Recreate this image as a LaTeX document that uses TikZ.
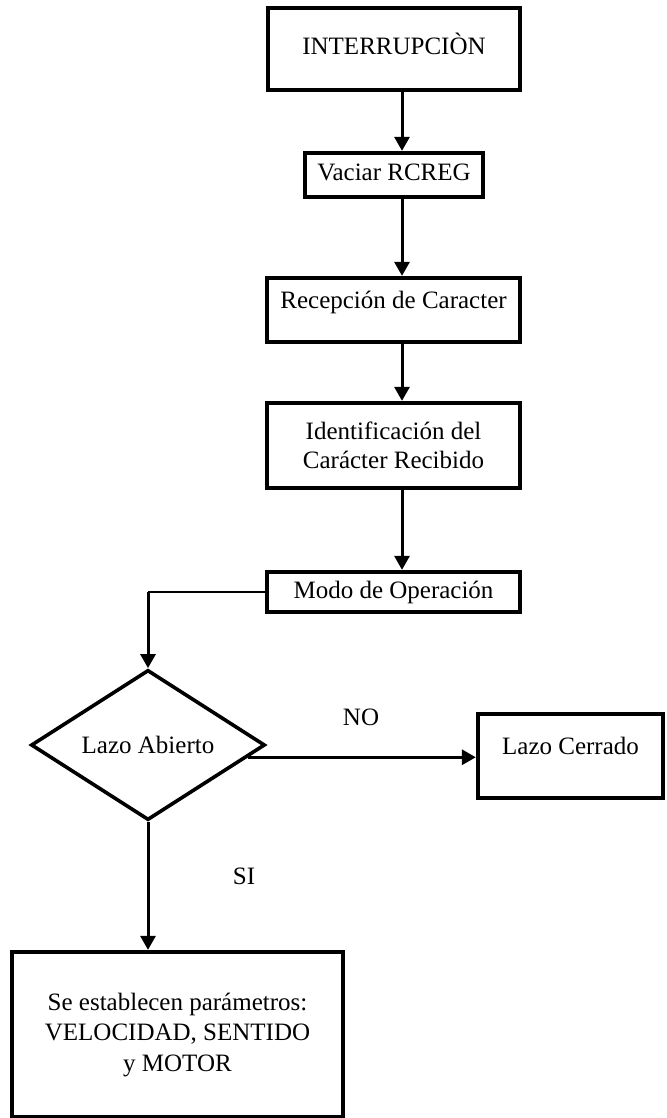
\documentclass[tikz,border=0pt]{standalone}
\usepackage{fontspec}
\setmainfont{Liberation Serif}
\usetikzlibrary{arrows.meta,shapes.geometric}
\newcommand\fs{\fontsize{25}{29}\selectfont}
\newcommand\fsb{\fontsize{25}{30.5}\selectfont}
\tikzset{
  box/.style={draw, line width=4.3pt, inner sep=0pt, align=center, font=\fs},
  one/.style={text height=18pt, text depth=6pt},
  up/.style={text height=18pt, text depth=22pt},
  dia/.style={diamond, draw, line width=3.6pt, inner sep=0pt, minimum width=234pt, minimum height=144pt, font=\fs},
  arr/.style={line width=3pt, -{Triangle[length=14pt,width=15pt]}},
  thinline/.style={line width=1.3pt},
  lab/.style={inner sep=0pt, font=\fs}
}
\begin{document}
\begin{tikzpicture}[x=1pt,y=-1pt]
\useasboundingbox (0,0) rectangle (666,1118);
\node[box, one, minimum width=252pt, minimum height=82pt] (b1) at (394,49) {INTERRUPCIÒN};
\node[box, one, minimum width=178pt, minimum height=44pt] (b2) at (394,175) {Vaciar RCREG};
\node[box, up, minimum width=253pt, minimum height=64pt] (b3) at (393.5,310) {Recepción de Caracter};
\node[box, minimum width=253pt, minimum height=85pt] (b4) at (393.5,445.5) {Identificación del\\Carácter Recibido};
\node[box, one, minimum width=253pt, minimum height=40pt] (b5) at (393.5,592) {Modo de Operación};
\node[dia] (d) at (148,745) {Lazo Abierto};
\node[box, up, minimum width=185pt, minimum height=84pt] (lc) at (570.5,756) {Lazo Cerrado};
\node[box, font=\fsb, minimum width=331pt, minimum height=165pt] (b6) at (177.5,1034.5) {Se establecen parámetros:\\VELOCIDAD, SENTIDO\\y MOTOR};
\node[lab] (no) at (361,717) {NO};
\node[lab] (si) at (244,876) {SI};
\coordinate (ax) at (402,0);
\draw[arr] (b1.south -| ax) -- (b2.north -| ax);
\draw[arr] (b2.south -| ax) -- (b3.north -| ax);
\draw[arr] (b3.south -| ax) -- (b4.north -| ax);
\draw[arr] (b4.south -| ax) -- (b5.north -| ax);
\coordinate (k) at (b5.west -| d.north);
\draw[thinline] (b5.west) -- (k);
\draw[arr] (k) -- (d.north);
\draw[arr] (d.-7) -- (d.-7 -| lc.west);
\draw[arr] (d.south) -- (d.south |- b6.north);
\end{tikzpicture}
\end{document}
